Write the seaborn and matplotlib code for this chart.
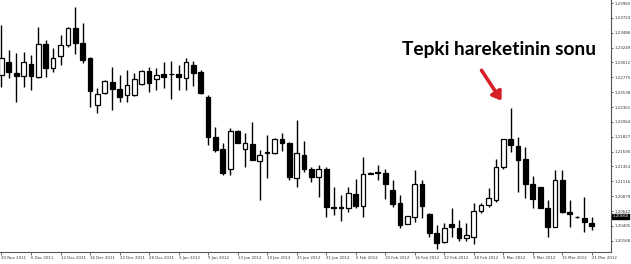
import matplotlib
matplotlib.use("Agg")
import matplotlib.pyplot as plt
import seaborn as sns
import numpy as np
import pandas as pd

# ---- data ----
opens = [1.2281, 1.2302, 1.2284, 1.2280, 1.2299, 1.2278, 1.2331, 1.2292, 1.2312, 1.2329,
         1.2356, 1.2332, 1.2308, 1.2233, 1.2253, 1.2270, 1.2259, 1.2249, 1.2249, 1.2267,
         1.2288, 1.2275, 1.2283, 1.2282, 1.2283, 1.2276, 1.2297, 1.2286, 1.2246, 1.2182,
         1.2163, 1.2131, 1.2192, 1.2163, 1.2171, 1.2144, 1.2156, 1.2157, 1.2179, 1.2173,
         1.2117, 1.2154, 1.2132, 1.2119, 1.2131, 1.2071, 1.2069, 1.2069, 1.2091, 1.2072,
         1.2125, 1.2126, 1.2125, 1.2098, 1.2077, 1.2044, 1.2055, 1.2108, 1.2060, 1.2029,
         1.2015, 1.2044, 1.2037, 1.2021, 1.2023, 1.2065, 1.2074, 1.2082, 1.2134, 1.2179,
         1.2168, 1.2148, 1.2108, 1.2102, 1.2069, 1.2038, 1.2114, 1.2062, 1.2055, 1.2053,
         1.2045]
highs = [1.2361, 1.2321, 1.2316, 1.2318, 1.2313, 1.2358, 1.2337, 1.2324, 1.2345, 1.2358,
         1.2390, 1.2364, 1.2310, 1.2260, 1.2273, 1.2294, 1.2281, 1.2289, 1.2284, 1.2289,
         1.2294, 1.2292, 1.2302, 1.2304, 1.2297, 1.2308, 1.2304, 1.2289, 1.2249, 1.2199,
         1.2173, 1.2197, 1.2194, 1.2189, 1.2207, 1.2162, 1.2185, 1.2181, 1.2189, 1.2175,
         1.2209, 1.2176, 1.2134, 1.2138, 1.2134, 1.2102, 1.2090, 1.2102, 1.2116, 1.2151,
         1.2126, 1.2138, 1.2132, 1.2114, 1.2090, 1.2057, 1.2130, 1.2114, 1.2061, 1.2042,
         1.2045, 1.2069, 1.2050, 1.2045, 1.2077, 1.2077, 1.2101, 1.2147, 1.2179, 1.2228,
         1.2183, 1.2167, 1.2120, 1.2102, 1.2082, 1.2130, 1.2130, 1.2082, 1.2056, 1.2086,
         1.2054]
lows = [1.2262, 1.2276, 1.2238, 1.2262, 1.2257, 1.2276, 1.2278, 1.2286, 1.2297, 1.2326,
        1.2315, 1.2300, 1.2230, 1.2221, 1.2251, 1.2225, 1.2238, 1.2238, 1.2248, 1.2265,
        1.2254, 1.2257, 1.2260, 1.2243, 1.2257, 1.2257, 1.2264, 1.2251, 1.2170, 1.2159,
        1.2122, 1.2122, 1.2172, 1.2134, 1.2145, 1.2082, 1.2117, 1.2155, 1.2160, 1.2114,
        1.2103, 1.2127, 1.2111, 1.2086, 1.2055, 1.2058, 1.2049, 1.2062, 1.2069, 1.2055,
        1.2123, 1.2113, 1.2083, 1.2071, 1.2037, 1.2043, 1.2047, 1.2053, 1.2023, 1.2003,
        1.2014, 1.2023, 1.2017, 1.2016, 1.2012, 1.2061, 1.2071, 1.2079, 1.2132, 1.2159,
        1.2095, 1.2085, 1.2069, 1.2069, 1.2023, 1.2038, 1.2061, 1.2039, 1.2053, 1.2031,
        1.2034]
closes = [1.2308, 1.2286, 1.2280, 1.2302, 1.2280, 1.2331, 1.2292, 1.2308, 1.2329, 1.2356,
          1.2332, 1.2305, 1.2256, 1.2251, 1.2272, 1.2259, 1.2246, 1.2265, 1.2275, 1.2288,
          1.2268, 1.2281, 1.2278, 1.2283, 1.2278, 1.2302, 1.2284, 1.2253, 1.2182, 1.2162,
          1.2125, 1.2192, 1.2173, 1.2173, 1.2146, 1.2154, 1.2159, 1.2179, 1.2172, 1.2119,
          1.2157, 1.2132, 1.2119, 1.2132, 1.2070, 1.2069, 1.2070, 1.2093, 1.2072, 1.2124,
          1.2124, 1.2125, 1.2107, 1.2075, 1.2042, 1.2056, 1.2108, 1.2072, 1.2029, 1.2014,
          1.2037, 1.2038, 1.2022, 1.2026, 1.2065, 1.2074, 1.2085, 1.2135, 1.2179, 1.2170,
          1.2146, 1.2108, 1.2083, 1.2069, 1.2039, 1.2114, 1.2062, 1.2060, 1.2054, 1.2046,
          1.2041]

date_labels = ["30 Nov 2011", "6 Dec 2011", "12 Dec 2011", "16 Dec 2011", "22 Dec 2011",
               "28 Dec 2011", "3 Jan 2012", "9 Jan 2012", "13 Jan 2012", "19 Jan 2012",
               "25 Jan 2012", "31 Jan 2012", "6 Feb 2012", "10 Feb 2012", "16 Feb 2012",
               "22 Feb 2012", "28 Feb 2012", "5 Mar 2012", "9 Mar 2012", "15 Mar 2012",
               "21 Mar 2012"]
date_positions = [0, 4, 8, 12, 16, 20, 24, 28, 32, 36, 40, 44, 48, 52, 56, 60, 64, 68, 72, 76, 80]
price_ticks = [1.23960, 1.23723, 1.23486, 1.23249, 1.23012, 1.22775, 1.22538, 1.22301,
               1.22064, 1.21827, 1.21590, 1.21353, 1.21116, 1.20879, 1.20642, 1.20405, 1.20168]
current_price = 1.20560
annotation_text = "Tepki hareketinin sonu"

df = pd.DataFrame({"o": opens, "h": highs, "l": lows, "c": closes})
df["i"] = np.arange(len(df))

# ---- figure ----
sns.set_theme(style="white")
W, H = 631, 264
fig = plt.figure(figsize=(W / 100, H / 100), dpi=100)
ax_l, ax_r, ax_b, ax_t = 0, 611, 12, 264
ax = fig.add_axes([ax_l / W, ax_b / H, (ax_r - ax_l) / W, (ax_t - ax_b) / H])

bw = 0.64
ax.vlines(df["i"], df["l"], df["h"], color="black", linewidth=1.0, zorder=2)
for _, r in df.iterrows():
    lo = min(r.o, r.c)
    hgt = abs(r.c - r.o)
    fc = "white" if r.c >= r.o else "black"
    ax.bar(r.i, max(hgt, 0.000001), bottom=lo, width=bw, color=fc,
           edgecolor="black", linewidth=0.9, zorder=3)

ax.set_xlim(-0.2, 82.6)
ax.set_ylim(1.19989, 1.24008)

for s in ["left", "top"]:
    ax.spines[s].set_visible(False)
for s in ["right", "bottom"]:
    ax.spines[s].set_color("#555555")
    ax.spines[s].set_linewidth(0.8)

ax.yaxis.tick_right()
ax.set_yticks(price_ticks)
ax.set_yticklabels([f"{v:.5f}" for v in price_ticks])
ax.set_xticks(date_positions)
ax.set_xticklabels(date_labels, ha="left")
ax.tick_params(axis="y", right=True, length=1.5, width=0.6, pad=1.2, labelsize=2.9,
               colors="#555555", labelcolor="#333333")
ax.tick_params(axis="x", bottom=True, length=2, width=0.6, pad=0.8, labelsize=2.8,
               colors="#555555", labelcolor="#333333")
ax.grid(False)

# current price label
ax.text(1.002, current_price, f"{current_price:.5f}", transform=ax.get_yaxis_transform(),
        ha="left", va="center", fontsize=2.9, color="white",
        bbox=dict(boxstyle="square,pad=0.1", fc="black", ec="black"), zorder=5,
        clip_on=False)

# annotation
fig.text(499 / W, 1 - 50 / H, annotation_text, ha="center", va="center",
         fontsize=13.8, fontweight="bold", family="Lato", color="black")
fig.add_artist(matplotlib.patches.FancyArrowPatch(
    (480 / W, 1 - 68 / H), (503 / W, 1 - 103 / H), transform=fig.transFigure,
    arrowstyle="-|>,head_length=5,head_width=3.5", color="#d61f26", linewidth=2.6,
    mutation_scale=1))

fig.savefig("out.png", dpi=100)
